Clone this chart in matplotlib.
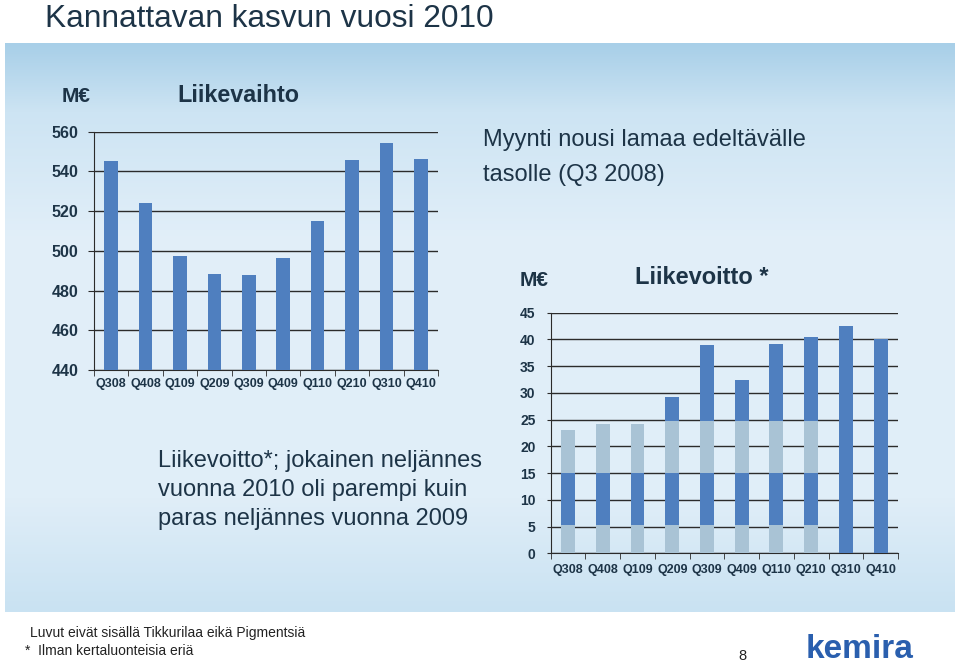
import numpy as np
import matplotlib
matplotlib.use("Agg")
import matplotlib.pyplot as plt
from matplotlib.colors import LinearSegmentedColormap

# ---------------- data ----------------
quarters = ["Q308", "Q408", "Q109", "Q209", "Q309", "Q409", "Q110", "Q210", "Q310", "Q410"]
sales = [545, 524.3, 497.5, 488.5, 487.7, 496.3, 515, 545.5, 554.5, 546.5]
profit = [23.0, 24.2, 24.1, 29.3, 39.0, 32.4, 39.1, 40.4, 42.5, 40.0]
band_edges = [5.3, 15.0, 24.7]      # light/dark banding in the original bars
banded_count = 8                     # first 8 quarters show banding
sales_ticks = [440, 460, 480, 500, 520, 540, 560]
profit_ticks = [0, 5, 10, 15, 20, 25, 30, 35, 40, 45]

title = "Kannattavan kasvun vuosi 2010"
note1 = ["Myynti nousi lamaa edeltävälle", "tasolle (Q3 2008)"]
note2 = ["Liikevoitto*; jokainen neljännes", "vuonna 2010 oli parempi kuin", "paras neljännes vuonna 2009"]
foot1 = "Luvut eivät sisällä Tikkurilaa eikä Pigmentsiä"
foot2 = "*  Ilman kertaluonteisia eriä"

W, H = 960, 666
DARK = "#4f7fbf"
LIGHT = "#a9c3d5"
TXT = "#1d3447"
GRID = "#2b2b2b"
FONT = "Liberation Sans"

fig = plt.figure(figsize=(W / 100, H / 100), dpi=100)
fig.patch.set_facecolor("white")


def fx(x):
    return x / W


def fy(y):
    return 1 - y / H


# background panel with gradient
bg = fig.add_axes([0, 0, 1, 1], zorder=-10)
bg.set_xlim(0, W)
bg.set_ylim(H, 0)
bg.axis("off")
cmap = LinearSegmentedColormap.from_list(
    "panel", [(0, "#a8cfe8"), (0.12, "#cde4f3"), (0.35, "#e2eff9"), (0.8, "#e0eef8"), (1, "#c9e2f2")])
grad = np.linspace(0, 1, 256).reshape(-1, 1)
bg.imshow(grad, cmap=cmap, extent=[5, 955, 612, 43], aspect="auto", zorder=0)

# title
fig.text(fx(45), fy(19), title, fontsize=22.8, color=TXT, family=FONT, va="center", ha="left")

# ---------------- left chart ----------------
ax1 = fig.add_axes([fx(94), fy(370), fx(438 - 94), (370 - 131.7) / H])
ax1.set_facecolor("none")
x = np.arange(len(quarters))
ax1.bar(x, sales, width=0.4, color=DARK, zorder=3)
ax1.set_ylim(440, 560)
ax1.set_xlim(-0.5, len(quarters) - 0.5)
ax1.set_yticks(sales_ticks)
ax1.set_yticklabels([str(t) for t in sales_ticks], fontsize=11.5, fontweight="bold", color=TXT, family=FONT)
ax1.set_xticks(x)
ax1.set_xticklabels(quarters, fontsize=9, fontweight="bold", color=TXT, family=FONT)
ax1.set_xticks(np.arange(-0.5, len(quarters)), minor=True)
ax1.tick_params(axis="x", which="major", length=0, pad=6)
ax1.tick_params(axis="x", which="minor", length=4, color=GRID, direction="out")
ax1.tick_params(axis="y", length=4, color=GRID, pad=7)
ax1.grid(axis="y", color=GRID, linewidth=1, zorder=1)
for s in ["top", "right"]:
    ax1.spines[s].set_visible(False)
for s in ["left", "bottom"]:
    ax1.spines[s].set_color(GRID)

fig.text(fx(62), fy(96), "M€", fontsize=15, fontweight="bold", color=TXT, family=FONT, va="center")
fig.text(fx(177), fy(96), "Liikevaihto", fontsize=16.8, fontweight="bold", color=TXT, family=FONT, va="center")
for k, line in enumerate(note1):
    fig.text(fx(483), fy(140 + 35 * k), line, fontsize=17, color=TXT, family=FONT, va="center")

# ---------------- right chart ----------------
ax2 = fig.add_axes([fx(550.7), fy(553.3), fx(898 - 550.7), (553.3 - 312.7) / H])
ax2.set_facecolor("none")
for i, v in enumerate(profit):
    if i < banded_count:
        edges = [0] + [e for e in band_edges if e < v] + [v]
        for k in range(len(edges) - 1):
            c = LIGHT if k % 2 == 0 else DARK
            ax2.bar(i, edges[k + 1] - edges[k], bottom=edges[k], width=0.4, color=c, zorder=3, linewidth=0)
    else:
        ax2.bar(i, v, width=0.4, color=DARK, zorder=3, linewidth=0)
ax2.set_ylim(0, 45)
ax2.set_xlim(-0.5, len(quarters) - 0.5)
ax2.set_yticks(profit_ticks)
ax2.set_yticklabels([str(t) for t in profit_ticks], fontsize=10, fontweight="bold", color=TXT, family=FONT)
ax2.set_xticks(x)
ax2.set_xticklabels(quarters, fontsize=9, fontweight="bold", color=TXT, family=FONT)
ax2.set_xticks(np.arange(-0.5, len(quarters)), minor=True)
ax2.tick_params(axis="x", which="major", length=0, pad=8)
ax2.tick_params(axis="x", which="minor", length=4, color=GRID, direction="out")
ax2.tick_params(axis="y", length=3, color=GRID, pad=8)
ax2.grid(axis="y", color=GRID, linewidth=1, zorder=1)
for s in ["top", "right"]:
    ax2.spines[s].set_visible(False)
for s in ["left", "bottom"]:
    ax2.spines[s].set_color(GRID)

fig.text(fx(520), fy(281), "M€", fontsize=15, fontweight="bold", color=TXT, family=FONT, va="center")
fig.text(fx(702), fy(277), "Liikevoitto *", fontsize=17, fontweight="bold", color=TXT, family=FONT,
         va="center", ha="center")
for k, line in enumerate(note2):
    fig.text(fx(158), fy(461 + 29 * k), line, fontsize=17, color=TXT, family=FONT, va="center")

# ---------------- footer ----------------
fig.text(fx(30), fy(633), foot1, fontsize=10, color="#222222", family=FONT, va="center")
fig.text(fx(25), fy(651), foot2, fontsize=10, color="#222222", family=FONT, va="center")
fig.text(fx(742), fy(656), "8", fontsize=10.5, color="#222222", family=FONT, va="center", ha="center")
fig.text(fx(860), fy(650), "kemira", fontsize=24, fontweight="bold", color="#2a5fae", family=FONT,
         va="center", ha="center")

fig.savefig("out.png", dpi=100, facecolor="white")
